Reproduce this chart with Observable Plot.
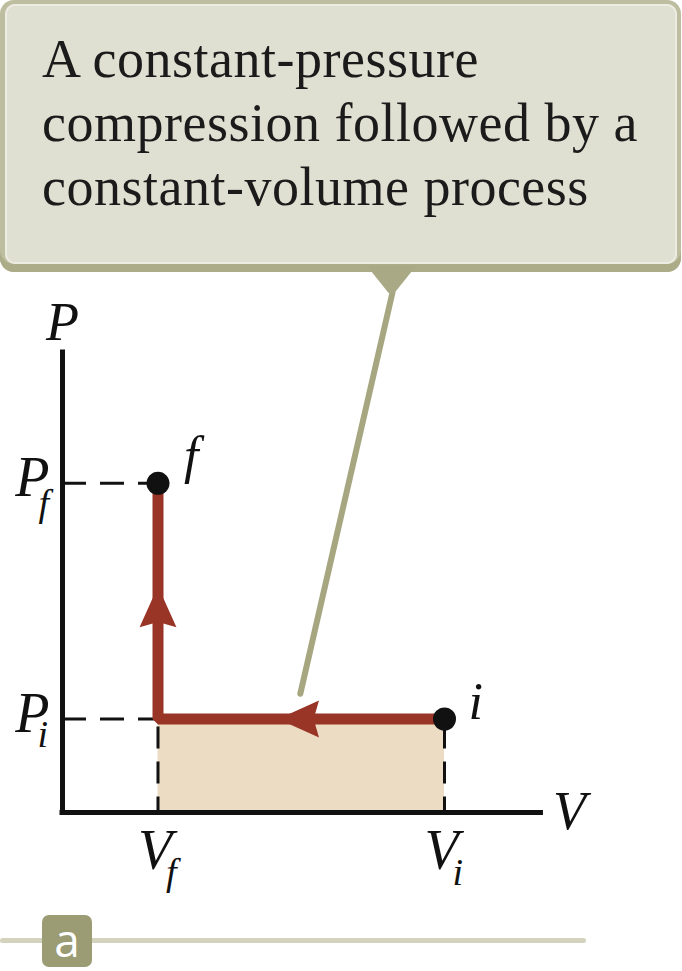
<!DOCTYPE html>
<html>
<head>
<meta charset="utf-8">
<script src="https://cdn.jsdelivr.net/npm/d3@7"></script>
<script src="https://cdn.jsdelivr.net/npm/@observablehq/plot@0.6"></script>
<style>
  html, body { margin: 0; padding: 0; background: #fff; }
  #page { width: 682px; height: 971px; position: relative; overflow: hidden; }
  #callout { position: relative; width: 682px; height: 272px; z-index: 2; }
  #callout .outer { position: absolute; left: 0; top: 0; width: 681px; height: 272px; background: #bdbd9f; border-radius: 14px;
    box-shadow: inset 0 -8px 0 #acac89; }
  #callout .inner { position: absolute; left: 5px; top: 4px; right: 5px; bottom: 8px; background: #e0e0d2; border-radius: 10px;
    box-shadow: inset 0 0 0 2px #ecece2; box-sizing: border-box; padding: 23px 0 0 37px;
    font-family: "Liberation Serif", serif; font-size: 54px; letter-spacing: 0.5px; line-height: 64px; color: #1b1b1b; white-space: nowrap; }
  #callout .pointer { position: absolute; left: 367px; top: 266px; width: 49px; height: 27px; background: #a9aa85;
    clip-path: polygon(0 0, 100% 0, 56% 100%, 44% 100%); }
  #chart svg { display: block; }
  #footer { position: relative; width: 682px; height: 81px; }
  #footer .rule { position: absolute; left: 0; top: 48px; width: 586px; height: 5px; background: #d3d3be; border-radius: 3px; }
  #footer .tag { position: absolute; left: 42px; top: 25px; width: 50px; height: 52px; background: #9b9b74; border-radius: 7px;
    color: #fff; font-family: "Open Sans", sans-serif; font-size: 46px; line-height: 48px; text-align: center; font-weight: 500; }
</style>
</head>
<body>
<div id="page">
  <div id="callout"><div class="outer"></div><div class="inner" id="calloutText"></div><div class="pointer"></div></div>
  <div id="chart"></div>
  <div id="footer"><div class="rule"></div><div class="tag" id="tag"></div></div>
</div>
<script>
// ---- data ----
const calloutLines = ["A constant-pressure", "compression followed by a", "constant-volume process"];
const panelLabel = "a";

const V_f = 1, V_i = 4;        // volumes
const P_i = 1, P_f = 3.52;     // pressures
const states = [
  {name: "i", V: V_i, P: P_i},
  {name: "f", V: V_f, P: P_f}
];
const processPath = [
  {V: V_i, P: P_i},
  {V: V_f, P: P_i},
  {V: V_f, P: P_f}
];
const pTickLabels = [
  {P: P_f, main: "P", sub: "f"},
  {P: P_i, main: "P", sub: "i"}
];
const vTickLabels = [
  {V: V_f, main: "V", sub: "f"},
  {V: V_i, main: "V", sub: "i"}
];
const axisExtent = {V: 5.01, P: 4.92};
const axisTitles = {x: "V", y: "P"};
const arrowMarks = [
  {V: V_f, P: 2.2, dir: "up"},
  {V: 2.471, P: P_i, dir: "left"}
];
const calloutLeader = [
  {V: 3.455, P: 5.56},
  {V: 2.49, P: 1.27}
];

// ---- header / footer text ----
document.getElementById("calloutText").innerHTML = calloutLines.map(s => `<div>${s}</div>`).join("");
document.getElementById("tag").textContent = panelLabel;

// ---- styles ----
const RED = "#993526";
const BEIGE = "#ecdcc3";
const OLIVE = "#a6a781";
const INK = "#111";
const serif = "Liberation Serif, serif";

function arrowSymbol(dir) {
  return {
    draw(ctx, size) {
      const r = Math.sqrt(size / Math.PI);
      const pts = [[0, -r], [0.9 * r, r], [0, 0.74 * r], [-0.9 * r, r]];
      const rot = dir === "left" ? ([x, y]) => [y, -x] : (p) => p;
      const q = pts.map(rot);
      ctx.moveTo(q[0][0], q[0][1]);
      for (let k = 1; k < q.length; k++) ctx.lineTo(q[k][0], q[k][1]);
      ctx.closePath();
    }
  };
}

const italic = (size) => ({fontFamily: serif, fontStyle: "italic", fontSize: size, fill: INK, lineAnchor: "bottom"});

const marks = [
  // shaded work area
  Plot.rect([{x1: V_f, x2: V_i, y1: 0, y2: P_i}], {x1: "x1", x2: "x2", y1: "y1", y2: "y2", fill: BEIGE}),
  // dashed guides
  Plot.ruleY(pTickLabels, {y: "P", x1: 0, x2: V_f, stroke: INK, strokeWidth: 3, strokeDasharray: "24,14"}),
  Plot.ruleX(vTickLabels, {x: "V", y1: P_i, y2: 0, stroke: INK, strokeWidth: 3, strokeDasharray: "22,13", strokeDashoffset: -8}),
  // axes
  Plot.ruleX([0], {y1: 0, y2: axisExtent.P, stroke: INK, strokeWidth: 5, strokeLinecap: "square"}),
  Plot.ruleY([0], {x1: 0, x2: axisExtent.V, stroke: INK, strokeWidth: 5, strokeLinecap: "square"}),
  // callout leader
  Plot.line(calloutLeader, {x: "V", y: "P", stroke: OLIVE, strokeWidth: 6, strokeLinecap: "round"}),
  // process path
  Plot.line(processPath, {x: "V", y: "P", stroke: RED, strokeWidth: 11, strokeLinejoin: "miter", strokeLinecap: "butt"}),
  Plot.dot(arrowMarks.filter(d => d.dir === "up"), {x: "V", y: "P", r: 20.5, fill: RED, stroke: "none", symbol: arrowSymbol("up")}),
  Plot.dot(arrowMarks.filter(d => d.dir === "left"), {x: "V", y: "P", r: 20.5, fill: RED, stroke: "none", symbol: arrowSymbol("left")}),
  // states
  Plot.dot(states, {x: "V", y: "P", r: 11.5, fill: INK, stroke: "none"}),
  Plot.text(states.filter(d => d.name === "i"), {x: "V", y: "P", text: "name", textAnchor: "start", dx: 24, dy: 0, ...italic(52)}),
  Plot.text(states.filter(d => d.name === "f"), {x: "V", y: "P", text: "name", textAnchor: "start", dx: 26, dy: -10, ...italic(52)}),
  // axis titles
  Plot.text([axisTitles.y], {x: 0, y: axisExtent.P, text: d => d, textAnchor: "middle", dx: 0, dy: -12, ...italic(54)}),
  Plot.text([axisTitles.x], {x: axisExtent.V, y: 0, text: d => d, textAnchor: "start", dx: 12, dy: 16, ...italic(54)}),
  // P tick labels
  Plot.text(pTickLabels, {x: 0, y: "P", text: "main", textAnchor: "end", dx: -13, dy: 13, ...italic(56)}),
  Plot.text(pTickLabels.filter(d => d.sub === "f"), {x: 0, y: "P", text: "sub", textAnchor: "start", dx: -24, dy: 33, ...italic(38)}),
  Plot.text(pTickLabels.filter(d => d.sub === "i"), {x: 0, y: "P", text: "sub", textAnchor: "start", dx: -25, dy: 28, ...italic(38)}),
  // V tick labels
  Plot.text(vTickLabels, {x: "V", y: 0, text: "main", textAnchor: "middle", dx: -3, dy: 56, ...italic(56)}),
  Plot.text(vTickLabels, {x: "V", y: 0, text: "sub", textAnchor: "start", dx: 8, dy: 72, ...italic(38)})
];

const chart = Plot.plot({
  width: 682,
  height: 618,
  margin: 0,
  style: {background: "transparent", overflow: "visible"},
  x: {domain: [0, 6.5], range: [62, 682.75], axis: null},
  y: {domain: [0, 5.775], range: [540, 0], axis: null},
  marks
});
document.getElementById("chart").appendChild(chart);
</script>
</body>
</html>
